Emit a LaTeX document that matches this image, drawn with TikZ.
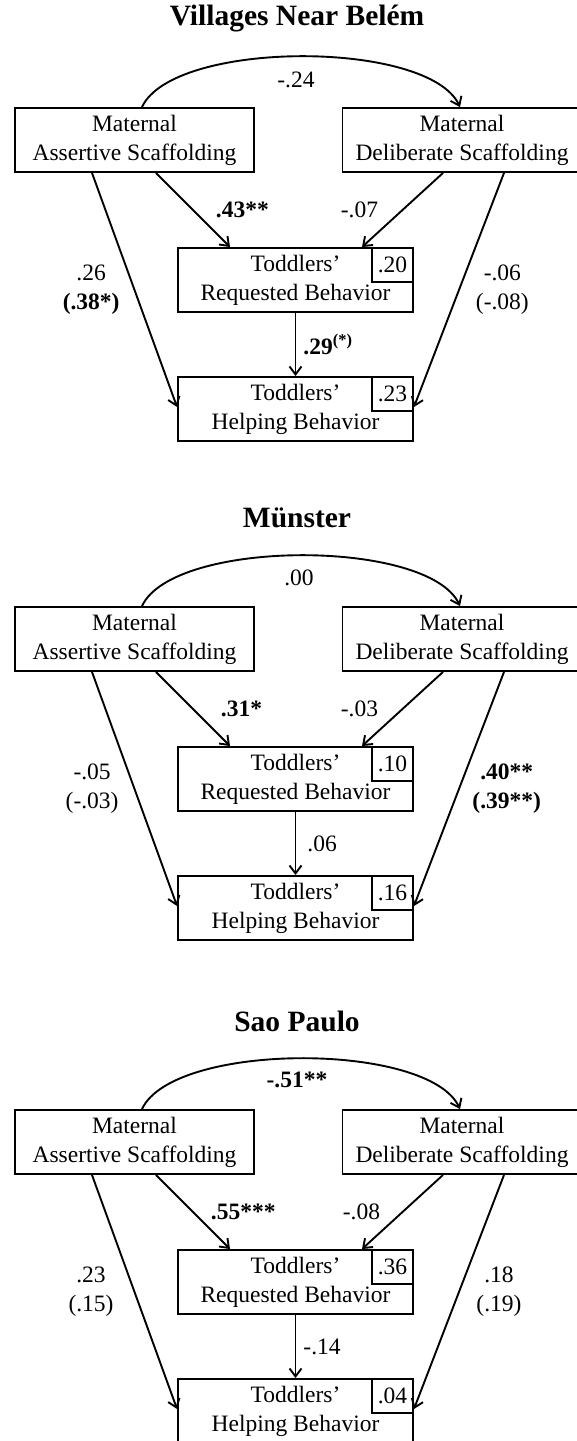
\documentclass[tikz,border=0pt]{standalone}
\usepackage{fontspec}
\setmainfont{Liberation Serif}
\usetikzlibrary{arrows.meta}

\begin{document}
\begin{tikzpicture}[->, >={Straight Barb[length=8pt,width=12pt]}, x=1pt, y=1pt, line width=1.9pt, node distance=499pt,
    var/.style={draw, rectangle, minimum width=239pt, minimum height=64pt, inner sep=0pt, align=center, font=\fontsize{23.5}{29}\selectfont},
    rsq/.style={draw, rectangle, minimum width=41pt, minimum height=34pt, inner sep=0pt, font=\fontsize{23.5}{29}\selectfont},
    coef/.style={inner sep=0pt, align=center, font=\fontsize{23.5}{29}\selectfont},
    head/.style={font=\bfseries\fontsize{29.5}{35}\selectfont}]

    \useasboundingbox (0,0) rectangle (577,-1441);
    \clip (0,0) rectangle (577,-1441);

    % Villages Near Belem
    \node[head] (T1) at (297,-19)
    {Villages Near Belém};

    \node[var] (LA1) at (134.5,-140)
    {Maternal\\Assertive Scaffolding};

    \node[var, right of=LA1, node distance=327.5pt] (DS1)
    {Maternal\\Deliberate Scaffolding};

    \node[var, minimum width=235pt] (RB1) at (295.5,-280)
    {Toddlers’\\Requested Behavior};

    \node[var, minimum width=235pt, below of=RB1, node distance=129pt] (HB1)
    {Toddlers’\\Helping Behavior};

    \node[rsq, anchor=north east] (R2RB1) at (RB1.north east) {.20};
    \node[rsq, anchor=north east] (R2HB1) at (HB1.north east) {.23};

    % ---------------------------------------------------------
    % Muenster

    \node[head, below of=T1] (T2)
    {Münster};

    \node[var, below of=LA1] (LA2)
    {Maternal\\Assertive Scaffolding};

    \node[var, below of=DS1] (DS2)
    {Maternal\\Deliberate Scaffolding};

    \node[var, minimum width=235pt, below of=RB1] (RB2)
    {Toddlers’\\Requested Behavior};

    \node[var, minimum width=235pt, below of=HB1] (HB2)
    {Toddlers’\\Helping Behavior};

    \node[rsq, anchor=north east] (R2RB2) at (RB2.north east) {.10};
    \node[rsq, anchor=north east] (R2HB2) at (HB2.north east) {.16};

    % ---------------------------------------------------------
    % Sao Paulo

    \node[head, below of=T2, node distance=503pt] (T3)
    {Sao Paulo};

    \node[var, below of=LA2, node distance=503pt] (LA3)
    {Maternal\\Assertive Scaffolding};

    \node[var, below of=DS2, node distance=503pt] (DS3)
    {Maternal\\Deliberate Scaffolding};

    \node[var, minimum width=235pt, below of=RB2, node distance=503pt] (RB3)
    {Toddlers’\\Requested Behavior};

    \node[var, minimum width=235pt, below of=HB2, node distance=503pt] (HB3)
    {Toddlers’\\Helping Behavior};

    \node[rsq, anchor=north east] (R2RB3) at (RB3.north east) {.36};
    \node[rsq, anchor=north east] (R2HB3) at (HB3.north east) {.04};

    \path[]
    {
        ([xshift=7.5pt]LA1.north) edge[out=65, in=115, looseness=0.6] node[coef, below=15pt, xshift=-5pt] {-.24} ([xshift=-2pt]DS1.north)
        ([xshift=21.5pt]LA1.south) edge node[coef, right=22pt] {\textbf{.43**}} ([xshift=-65.5pt]RB1.north)
        ([xshift=-19pt]DS1.south) edge node[coef, left=23.5pt] {-.07} ([xshift=66.5pt]RB1.north)
        ([xshift=-42.5pt]LA1.south) edge node[coef, left=14pt] {.26\\\textbf{(.38*)}} ([yshift=2pt]HB1.west)
        ([xshift=42pt]DS1.south) edge node[coef, right=16pt] {-.06\\(-.08)} ([yshift=2pt]HB1.east)
        (RB1) edge node[coef, right=7pt] {\textbf{.29\textsuperscript{(*)}}} (HB1)

        % --------------------------------------------------

        ([xshift=7.5pt]LA2.north) edge[out=65, in=115, looseness=0.6] node[coef, below=13pt, xshift=-2pt] {.00} ([xshift=-2pt]DS2.north)
        ([xshift=21.5pt]LA2.south) edge node[coef, right=27pt] {\textbf{.31*}} ([xshift=-65.5pt]RB2.north)
        ([xshift=-19pt]DS2.south) edge node[coef, left=23.5pt] {-.03} ([xshift=66.5pt]RB2.north)
        ([xshift=-42.5pt]LA2.south) edge node[coef, left=15pt] {-.05\\(-.03)} ([yshift=2pt]HB2.west)
        ([xshift=42pt]DS2.south) edge node[coef, right=12.5pt] {\textbf{.40**}\\\textbf{(.39**)}} ([yshift=2pt]HB2.east)
        (RB2) edge node[coef, right=11pt] {.06} (HB2)

        % --------------------------------------------------

        ([xshift=7.5pt]LA3.north) edge[out=65, in=115, looseness=0.6] node[coef, below=13pt, xshift=-4pt] {\textbf{-.51**}} ([xshift=-2pt]DS3.north)
        ([xshift=21.5pt]LA3.south) edge node[coef, right=17pt] {\textbf{.55***}} ([xshift=-65.5pt]RB3.north)
        ([xshift=-19pt]DS3.south) edge node[coef, left=21.5pt] {-.08} ([xshift=66.5pt]RB3.north)
        ([xshift=-42.5pt]LA3.south) edge node[coef, left=20pt] {.23\\(.15)} ([yshift=2pt]HB3.west)
        ([xshift=42pt]DS3.south) edge node[coef, right=16.5pt] {.18\\(.19)} ([yshift=2pt]HB3.east)
        (RB3) edge node[coef, right=7pt] {-.14} (HB3)
    };
\end{tikzpicture}
\end{document}
